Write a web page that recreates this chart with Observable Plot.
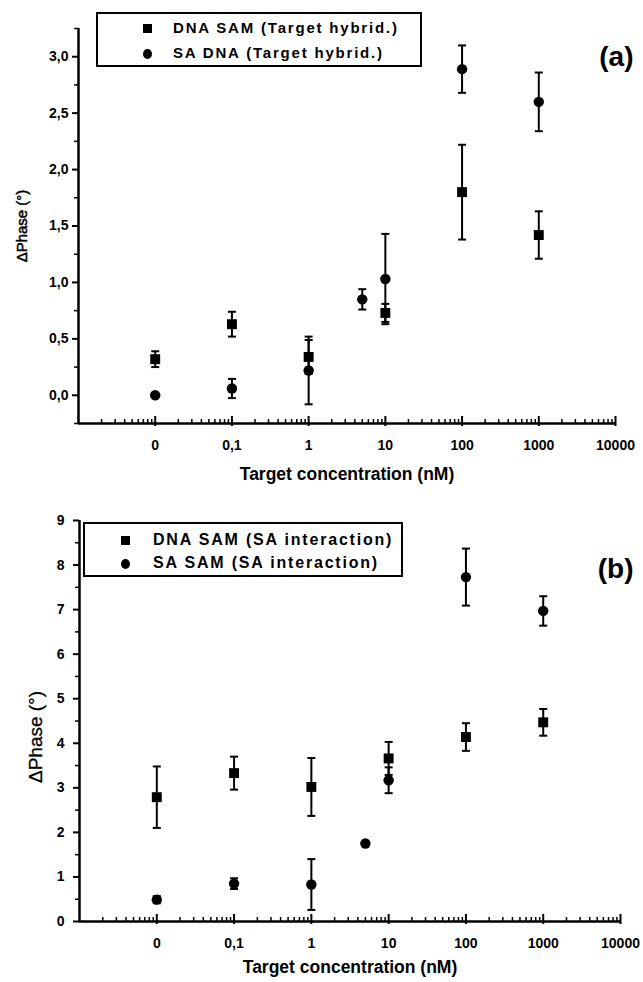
<!DOCTYPE html>
<html>
<head>
<meta charset="utf-8">
<script src="https://cdn.jsdelivr.net/npm/d3@7"></script>
<script src="https://cdn.jsdelivr.net/npm/@observablehq/plot@0.6"></script>
<style>
  body { margin: 0; background: #fff; }
  #wrap { position: relative; width: 643px; height: 982px; background: #fff; font-family: "Liberation Sans", Arial, sans-serif; }
  .panel { position: absolute; left: 0; }
  .legend { position: absolute; border: 2px solid #000; box-sizing: border-box; background: #fff; }
  .row { position: absolute; line-height: 18px; color: #000; white-space: nowrap; }
  .sq { position: absolute; width: 9px; height: 9px; background: #000; }
  .ci { position: absolute; width: 9px; height: 10px; background: #000; border-radius: 50%; }
</style>
</head>
<body>
<div id="wrap">
  <div id="pa" class="panel" style="top:0"></div>
  <div id="pb" class="panel" style="top:490px"></div>
</div>
<script>
// ---- data ----
const tickPos = [0.01, 0.1, 1, 10, 100, 1000, 10000];
const tickLabels = ["0", "0,1", "1", "10", "100", "1000", "10000"];

// panel (a): target hybridization
const aSamConc = [0, 0.1, 1, 10, 100, 1000];
const aSamVal  = [0.32, 0.63, 0.34, 0.73, 1.80, 1.42];
const aSamErr  = [0.07, 0.11, 0.15, 0.08, 0.42, 0.21];
const aSaConc  = [0, 0.1, 1, 5, 10, 100, 1000];
const aSaVal   = [0.00, 0.06, 0.22, 0.85, 1.03, 2.89, 2.60];
const aSaErr   = [0, 0.085, 0.30, 0.09, 0.40, 0.21, 0.26];

// panel (b): SA interaction
const bSamConc = [0, 0.1, 1, 10, 100, 1000];
const bSamVal  = [2.79, 3.33, 3.02, 3.66, 4.14, 4.47];
const bSamErr  = [0.69, 0.37, 0.65, 0.37, 0.31, 0.30];
const bSaConc  = [0, 0.1, 1, 5, 10, 100, 1000];
const bSaVal   = [0.49, 0.85, 0.83, 1.75, 3.17, 7.73, 6.97];
const bSaErr   = [0.08, 0.12, 0.57, 0, 0.29, 0.64, 0.33];

const legendA = ["DNA SAM (Target hybrid.)", "SA DNA (Target hybrid.)"];
const legendB = ["DNA SAM (SA interaction)", "SA SAM (SA interaction)"];
const xTitle = "Target concentration (nM)";
const yTitle = "ΔPhase (°)";

// ---- helpers ----
const labelMap = new Map(tickPos.map((d, i) => [d, tickLabels[i]]));
const xPos = c => (c === 0 ? 0.01 : c);
function rows(conc, val, err) {
  return conc.map((c, i) => ({x: xPos(c), y: val[i], e: err[i]}));
}
const minorX = [];
for (let e = -3; e < 4; e++) for (let k = 2; k <= 9; k++) minorX.push(k * Math.pow(10, e));
const capSymbol = { draw(ctx) { ctx.moveTo(-4, 0); ctx.lineTo(4, 0); } };

function panel(o) {
  const sam = rows(o.samConc, o.samVal, o.samErr);
  const sa = rows(o.saConc, o.saVal, o.saErr);
  const bars = sam.concat(sa).filter(d => d.e > 0);
  const frameH = o.height - o.mt - o.mb;
  return Plot.plot({
    width: 643, height: o.height,
    marginTop: o.mt, marginBottom: o.mb, marginLeft: o.ml, marginRight: o.mr,
    x: {type: "log", domain: [0.001, 10000]},
    y: {domain: o.yDomain},
    style: {fontFamily: "'Liberation Sans', Arial, sans-serif", fontSize: "14px", fontWeight: "bold", background: "#fff", color: "#000", overflow: "visible"},
    marks: [
      // axes lines
      Plot.ruleX([0.001], {stroke: "#000", strokeWidth: 2.5}),
      Plot.ruleY([o.yDomain[0]], {stroke: "#000", strokeWidth: 2.5}),
      // x ticks (inward)
      Plot.tickX(minorX, {x: d => d, insetTop: frameH - 4, stroke: "#000", strokeWidth: 1.5}),
      Plot.tickX(tickPos, {x: d => d, insetTop: frameH - 7, stroke: "#000", strokeWidth: 2}),
      Plot.axisX({ticks: tickPos, tickSize: 3, strokeWidth: 2, tickPadding: o.xPad, tickFormat: d => labelMap.get(d), label: null}),
      // y ticks
      Plot.axisY({ticks: o.yMajor, tickSize: 6, strokeWidth: 2, tickPadding: o.yPad, tickFormat: o.yFmt, label: null}),
      Plot.axisY({ticks: o.yMinor, tickSize: 4, strokeWidth: 1.5, fill: "none", tickFormat: () => "", label: null}),
      // titles
      Plot.text([xTitle], {frameAnchor: "bottom", textAnchor: "middle", dy: o.xTitleDy, fontSize: "17.5px", fontWeight: "bold", fill: "#000"}),
      Plot.text([yTitle], {frameAnchor: "left", textAnchor: "middle", rotate: -90, dx: o.yTitleDx, dy: o.yTitleDy, fontSize: o.yTitleSize, fontWeight: "normal", fill: "#000", stroke: "#000", strokeWidth: o.yTitleStroke}),
      Plot.text([o.tag], {frameAnchor: "top-right", textAnchor: "end", dx: o.tagDx, dy: o.tagDy, fontSize: "28px", fontWeight: "bold", fill: "#000"}),
      // error bars
      Plot.ruleX(bars, {x: "x", y1: d => d.y - d.e, y2: d => d.y + d.e, stroke: "#000", strokeWidth: 2}),
      Plot.dot(bars, {x: "x", y: d => d.y + d.e, symbol: capSymbol, stroke: "#000", fill: "none", strokeWidth: 2}),
      Plot.dot(bars, {x: "x", y: d => d.y - d.e, symbol: capSymbol, stroke: "#000", fill: "none", strokeWidth: 2}),
      // points
      Plot.dot(sam, {x: "x", y: "y", symbol: "square", r: 5.6, fill: "#000", stroke: "none"}),
      Plot.dot(sa, {x: "x", y: "y", symbol: "circle", r: 5.2, fill: "#000", stroke: "none"})
    ]
  });
}

const fmtA = d => d.toFixed(1).replace(".", ",");
const yMajorA = d3.range(0, 3.01, 0.5);
const yMinorA = d3.range(-0.25, 3.26, 0.5);
const yMajorB = d3.range(0, 9.01, 1);
const yMinorB = d3.range(0.5, 9, 1);

document.getElementById("pa").appendChild(panel({
  samConc: aSamConc, samVal: aSamVal, samErr: aSamErr,
  saConc: aSaConc, saVal: aSaVal, saErr: aSaErr,
  height: 490, mt: 28, mb: 67, ml: 78, mr: 28,
  yDomain: [-0.25, 3.25], yMajor: yMajorA, yMinor: yMinorA, yFmt: fmtA, yPad: 4, xPad: 14,
  xTitleDy: 56, yTitleDx: -56, yTitleDy: 0, yTitleSize: 15, yTitleStroke: 0.5,
  tag: "(a)", tagDx: 18, tagDy: 18
}));
document.getElementById("pb").appendChild(panel({
  samConc: bSamConc, samVal: bSamVal, samErr: bSamErr,
  saConc: bSaConc, saVal: bSaVal, saErr: bSaErr,
  height: 492, mt: 30, mb: 61, ml: 79, mr: 23,
  yDomain: [0, 9], yMajor: yMajorB, yMinor: yMinorB, yFmt: d => String(d), yPad: 9, xPad: 14,
  xTitleDy: 51, yTitleDx: -44, yTitleDy: 16, yTitleSize: 19, yTitleStroke: 0.3,
  tag: "(b)", tagDx: 13, tagDy: 38
}));

// ---- legends ----
function legend(labels, box, font) {
  const wrap = document.getElementById("wrap");
  const div = document.createElement("div");
  div.className = "legend";
  Object.assign(div.style, {left: box.left + "px", top: box.top + "px", width: box.w + "px", height: box.h + "px"});
  wrap.appendChild(div);
  labels.forEach((t, i) => {
    const cy = box.rows[i] - box.top - 2;
    const m = document.createElement("div");
    m.className = i === 0 ? "sq" : "ci";
    Object.assign(m.style, {left: (box.mx - box.left - 2 - 4.5) + "px", top: (cy - 4.5) + "px"});
    div.appendChild(m);
    const r = document.createElement("div");
    r.className = "row";
    r.textContent = t;
    Object.assign(r.style, {left: (box.tx - box.left - 2) + "px", top: (cy - 9) + "px",
      fontWeight: font.weight, fontSize: font.size + "px", letterSpacing: font.spacing + "px"});
    div.appendChild(r);
  });
}
legend(legendA, {left: 96, top: 12, w: 326, h: 55, mx: 147, tx: 173, rows: [28, 53]}, {weight: "bold", size: 15, spacing: 1.8});
legend(legendB, {left: 83, top: 522, w: 320, h: 55, mx: 125, tx: 153, rows: [540, 563]}, {weight: "bold", size: 16, spacing: 1.8});
</script>
</body>
</html>
